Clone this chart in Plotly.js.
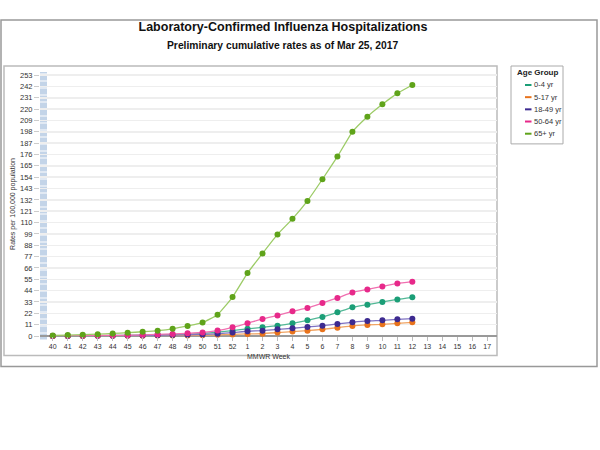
<!DOCTYPE html>
<html>
<head>
<meta charset="utf-8">
<script src="https://cdn.plot.ly/plotly-3.0.1.min.js"></script>
<style>
  body { margin: 0; background: #fff; }
  #myDiv { width: 600px; height: 450px; }
</style>
</head>
<body>
<div id="myDiv"></div>
<script>
// MMWR weeks of the 2016-17 season
var weeks = ['40', '41', '42', '43', '44', '45', '46', '47', '48', '49', '50', '51', '52',
  '1', '2', '3', '4', '5', '6', '7', '8', '9', '10', '11', '12', '13', '14', '15', '16', '17'];
var ageGroups = ['0-4 yr', '5-17 yr', '18-49 yr', '50-64 yr', '65+ yr'];

// cumulative rates per 100,000 (weeks 40 .. 12)
var rate0to4 = [0.1, 0.2, 0.3, 0.4, 0.5, 0.7, 0.9, 1.1, 1.4, 1.8, 2.4, 3.8, 5.2,
  7.0, 8.4, 10.0, 12.3, 15.2, 18.5, 23.0, 27.8, 30.4, 33.0, 35.5, 37.5];
var rate5to17 = [0.1, 0.1, 0.1, 0.2, 0.2, 0.3, 0.3, 0.4, 0.5, 0.6, 0.8, 1.1, 1.5,
  2.0, 2.3, 3.3, 4.3, 5.2, 6.5, 8.1, 9.8, 10.7, 11.3, 12.3, 13.3];
var rate18to49 = [0.1, 0.1, 0.2, 0.3, 0.3, 0.4, 0.5, 0.7, 0.9, 1.1, 1.5, 2.2, 3.3,
  4.6, 5.2, 6.5, 7.5, 8.8, 10.0, 11.7, 13.3, 14.6, 15.2, 16.2, 16.8];
var rate50to64 = [0.1, 0.2, 0.3, 0.4, 0.6, 0.8, 1.0, 1.5, 2.0, 2.6, 3.4, 5.3, 8.4,
  12.3, 16.6, 20.0, 23.9, 27.2, 32.0, 36.9, 42.3, 45.2, 48.1, 51.0, 52.7];
var rate65plus = [0.6, 0.9, 1.3, 1.8, 2.5, 3.2, 4.1, 5.2, 7.0, 9.8, 13.0, 20.7, 37.8,
  61.0, 80.0, 98.5, 113.6, 131.0, 152.0, 174.0, 198.0, 212.7, 224.7, 235.3, 243.4];

var markerColors = ['#1b9e77', '#e8731c', '#3d2a90', '#e7298a', '#5fa31a'];
var lineColors = ['#52b896', '#f0a463', '#7f72c2', '#f070b0', '#9ccb66'];

var allRates = [rate0to4, rate5to17, rate18to49, rate50to64, rate65plus];
var weekIdx = weeks.map(function (w, i) { return i; });

var data = [];
allRates.forEach(function (r, k) {
  data.push({
    x: weekIdx.slice(0, r.length),
    y: r,
    type: 'scatter',
    mode: 'lines+markers',
    name: ageGroups[k],
    showlegend: false,
    cliponaxis: false,
    line: {color: lineColors[k], width: 1.3, shape: 'spline', smoothing: 0.4},
    marker: {color: markerColors[k], size: 6}
  });
});

// pixel helpers for the frames around the chart (plot area: x 40..497, y 72..336.4)
var L = 40, R = 497, T = 72, B = 336.4;
function px(v) { return (v - L) / (R - L); }
function py(v) { return (B - v) / (B - T); }

var shapes = [
  // outer frame
  {type: 'rect', xref: 'paper', yref: 'paper', x0: px(1), x1: px(597), y0: py(367), y1: py(20),
    line: {color: '#999', width: 1.5}, layer: 'below'},
  // inner plot frame
  {type: 'rect', xref: 'paper', yref: 'paper', x0: px(4), x1: px(497), y0: py(356), y1: py(66),
    line: {color: '#bbb', width: 1.5}, layer: 'below'},
  // legend box
  {type: 'rect', xref: 'paper', yref: 'paper', x0: px(511), x1: px(563), y0: py(144), y1: py(66),
    line: {color: '#aaa', width: 1}, layer: 'below'},
  // light blue striped bar at the left edge of the plot
  {type: 'line', xref: 'paper', yref: 'paper', x0: px(43.5), x1: px(43.5), y0: py(340), y1: py(72),
    line: {color: '#c3d4e8', width: 7, dash: '6px,1px'}, layer: 'below'}
];

// hand-made legend: plotly's own legend rows are too tall for this one
var annotations = [
  {xref: 'paper', yref: 'paper', x: px(283), y: py(45), yanchor: 'middle', showarrow: false,
    text: '<b>Preliminary cumulative rates as of Mar 25, 2017</b>',
    font: {size: 10.3, color: '#111'}},
  {xref: 'paper', yref: 'paper', x: px(515), y: py(72.5), xanchor: 'left', yanchor: 'middle', showarrow: false,
    text: '<b>Age Group</b>', font: {size: 8, color: '#222'}}
];
ageGroups.forEach(function (g, k) {
  var rowY = 85 + k * 12.2;
  shapes.push({type: 'line', xref: 'paper', yref: 'paper', x0: px(525), x1: px(531.5),
    y0: py(rowY), y1: py(rowY), line: {color: markerColors[k], width: 2}});
  annotations.push({
    xref: 'paper', yref: 'paper', x: px(532), y: py(rowY), xanchor: 'left', yanchor: 'middle',
    showarrow: false, text: g, font: {size: 7.5, color: '#333'}
  });
});

var layout = {
  width: 600,
  height: 450,
  margin: {l: L, r: 600 - R, t: T, b: 450 - B},
  paper_bgcolor: '#fff',
  plot_bgcolor: '#fff',
  showlegend: false,
  font: {family: 'Liberation Sans, Arial, sans-serif', size: 8, color: '#333'},
  title: {
    text: '<b>Laboratory-Confirmed Influenza Hospitalizations</b>',
    font: {family: 'Liberation Sans, Arial, sans-serif', size: 12.5, color: '#111'},
    xref: 'container', x: 283 / 600, xanchor: 'center',
    yref: 'container', y: 1 - 27 / 450, yanchor: 'middle'
  },
  xaxis: {
    range: [-0.85, 29.65],
    tickmode: 'array',
    tickvals: weekIdx,
    ticktext: weeks,
    ticks: 'outside', ticklen: 4, tickcolor: '#bbb',
    tickfont: {size: 7, color: '#333'},
    showgrid: false,
    zeroline: false,
    showline: false,
    fixedrange: true,
    title: {text: 'MMWR Week', font: {size: 7, color: '#333'}, standoff: 4}
  },
  yaxis: {
    range: [0, 256],
    tick0: 0, dtick: 11,
    ticks: 'outside', ticklen: 5, tickcolor: '#ccc',
    tickfont: {size: 7.5, color: '#333'},
    gridcolor: '#eeeeee', gridwidth: 1.5,
    zeroline: true, zerolinecolor: '#999', zerolinewidth: 2,
    showline: false,
    fixedrange: true,
    title: {text: 'Rates per 100,000 population', font: {size: 7, color: '#333'}, standoff: 3}
  },
  annotations: annotations,
  shapes: shapes
};

Plotly.newPlot('myDiv', data, layout, {displayModeBar: false, staticPlot: true});
</script>
</body>
</html>
